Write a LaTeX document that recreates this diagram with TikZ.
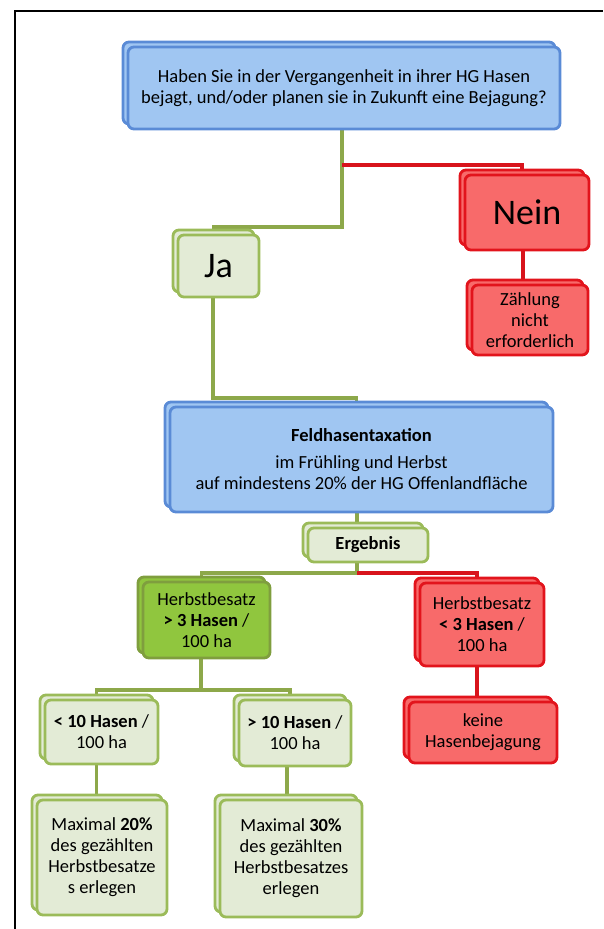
\documentclass[tikz,border=0pt]{standalone}
\usepackage{fontspec}
\setmainfont{Carlito}
\usetikzlibrary{shadows,backgrounds}
\definecolor{bfill}{HTML}{A0C6F2}
\definecolor{bdraw}{HTML}{5A8BD6}
\definecolor{rfill}{HTML}{F86A6A}
\definecolor{rdraw}{HTML}{E2141C}
\definecolor{gfill}{HTML}{E3EBD6}
\definecolor{gdraw}{HTML}{9BBB59}
\definecolor{hfill}{HTML}{90C63E}
\definecolor{hdraw}{HTML}{7F9E3E}
\definecolor{gline}{HTML}{8DA84A}
\definecolor{rline}{HTML}{D8141C}
\tikzset{
  box/.style={rounded corners=6pt, line width=2.8pt, align=center, inner sep=0pt,
    font=\fontsize{18.5}{21}\selectfont,
    copy shadow={shadow xshift=-5pt, shadow yshift=5pt}},
  bluebox/.style={box, draw=bdraw, fill=bfill},
  redbox/.style={box, draw=rdraw, fill=rfill},
  greenbox/.style={box, draw=gdraw, fill=gfill},
  hbox/.style={box, draw=hdraw, fill=hfill},
  big/.style={font=\fontsize{36}{42}\selectfont},
  sz/.style 2 args={minimum width=#1pt, minimum height=#2pt},
  gconn/.style={draw=gline, line width=3.4pt},
  rconn/.style={draw=rline, line width=3.4pt},
}
\begin{document}
\begin{tikzpicture}[x=1pt,y=-1pt]
\useasboundingbox (0,0) rectangle (603,929);
\draw[line width=2pt] (15,929) -- (15,11) -- (603,11);

\node[bluebox, sz={432}{82}] (q) at (344,88)
  {Haben Sie in der Vergangenheit in ihrer HG Hasen\\bejagt, und/oder planen sie in Zukunft eine Bejagung?};
\node[redbox, big, sz={124}{75}] (Nein) at (527,212.5) {Nein};
\node[greenbox, big, sz={81}{62}] (Ja) at (218.5,266) {Ja};
\node[redbox, sz={116}{70}] (Zae) at (530,320) {Zählung\\nicht\\erforderlich};
\node[bluebox, sz={383}{105}] (Feld) at (361.5,459.5)
  {\textbf{Feldhasentaxation}\\[6pt]im Frühling und Herbst\\auf mindestens 20\% der HG Offenlandfläche};
\node[greenbox, sz={120}{34}] (Erg) at (368,545) {\textbf{Ergebnis}};
\node[hbox, sz={127}{76}] (Hg) at (206.5,620) {Herbstbesatz\\\textbf{> 3 Hasen} /\\100 ha};
\node[redbox, sz={124}{83}] (Hr) at (482,624.5) {Herbstbesatz\\\textbf{< 3 Hasen} /\\100 ha};
\node[greenbox, sz={113}{64}] (Lt) at (101.5,732) {\textbf{< 10 Hasen} /\\100 ha};
\node[greenbox, sz={112}{66}] (Gt) at (295,733) {\textbf{> 10 Hasen} /\\100 ha};
\node[redbox, sz={148}{61}] (Kn) at (483,732.5) {keine\\Hasenbejagung};
\node[greenbox, sz={130}{115}] (M20) at (102,857.5)
  {Maximal \textbf{20\%}\\des gezählten\\Herbstbesatze\\s erlegen};
\node[greenbox, sz={142}{117}] (M30) at (291,858.5)
  {Maximal \textbf{30\%}\\des gezählten\\Herbstbesatzes\\erlegen};

\begin{scope}[on background layer]
\coordinate (c1) at (342,227);
\coordinate (c2) at (342,165);
\coordinate (c3) at (213,398);
\coordinate (c4) at (357,573);
\coordinate (c5) at (201,690);
\draw[gconn] (q.south -| c1) -- (c1) -| ([xshift=-5pt]Ja.north);
\draw[rconn] (c2) -| ([xshift=-5pt]Nein.north);
\draw[rconn] ([xshift=-4pt]Nein.south) -- ([xshift=-4pt]Nein.south |- Zae.north);
\draw[gconn] (Ja.south -| c3) -- (c3) -| ([xshift=-5pt]Feld.north);
\draw[gconn] (Feld.south -| c4) -- (Erg.north -| c4);
\draw[gconn] (Erg.south -| c4) -- (c4) -| ([xshift=-5pt]Hg.north);
\draw[rconn] (c4) -| ([xshift=-5pt]Hr.north);
\draw[gconn] (Hg.south -| c5) -- (c5);
\draw[gconn] ([xshift=-5pt]Lt.north) |- ([xshift=-5pt]Gt.north |- c5) -- ([xshift=-5pt]Gt.north);
\draw[rconn] ([xshift=-5pt]Hr.south) -- ([xshift=-5pt]Hr.south |- Kn.north);
\draw[gconn] ([xshift=-5pt]Lt.south) -- ([xshift=-5pt]Lt.south |- M20.north);
\draw[gconn] ([xshift=-8pt]Gt.south) -- ([xshift=-8pt]Gt.south |- M30.north);
\end{scope}
\end{tikzpicture}
\end{document}
